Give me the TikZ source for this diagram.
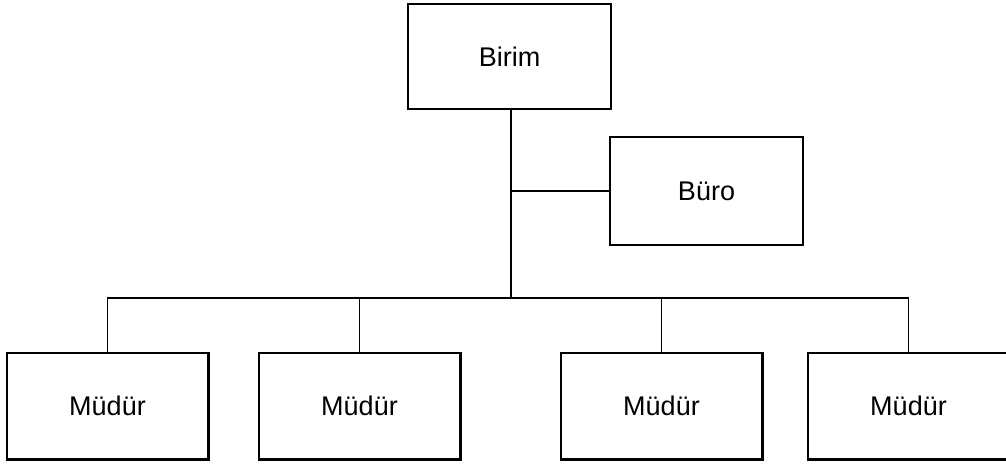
\documentclass[tikz,border=0pt]{standalone}
\usepackage{fontspec}
\setmainfont{Liberation Sans}
\usetikzlibrary{positioning}
\tikzset{
  unit/.style={draw, line width=1.4pt, inner sep=0pt,
    minimum width=201pt, minimum height=105pt,
    font=\fontsize{27}{31}\selectfont},
  link/.style={line width=1.4pt}
}

\begin{document}
\begin{tikzpicture}[x=1pt,y=-1pt]
\useasboundingbox (0,0) rectangle (1006,464);
\node[unit, minimum width=203pt] (birim) at (509.5,56.5) {Birim};
\node[unit, minimum width=193pt, minimum height=108pt] (buro) at (706.5,191) {Büro};
\node[unit, minimum height=106pt] (m1) at (107.5,406) {Müdür};
\node[unit, minimum height=106pt] (m2) at (359.5,406) {Müdür};
\node[unit, minimum height=106pt] (m3) at (661.5,406) {Müdür};
\node[unit, minimum height=106pt] (m4) at (908.5,406) {Müdür};
\coordinate (bus) at (511,298);
% heavier right and bottom edges
\foreach \m in {m1,m2,m3,m4}
  \draw[line width=2.4pt] (\m.north east) -- (\m.south east) -- (\m.south west);
\draw[link] (bus |- birim.south) -- (bus);
\draw[link] (buro.west) -- (buro.west -| bus);
\draw[link] (m1.north) -- (m1.north |- bus) -- (m4.north |- bus) -- (m4.north);
\draw[link] (m2.north) -- (m2.north |- bus);
\draw[link] (m3.north) -- (m3.north |- bus);
\end{tikzpicture}
\end{document}
